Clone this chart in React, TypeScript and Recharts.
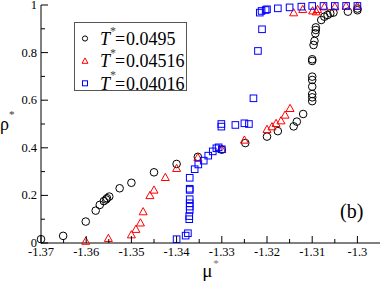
import { ScatterChart, Scatter, XAxis, YAxis, Legend } from "recharts";

const SERIF = "'Liberation Serif', 'Times New Roman', serif";
const serif = { fontFamily: SERIF };

// T* = 0.0495 (circles)
const MU_A = [
  -1.37, -1.3651, -1.3601, -1.3579, -1.357, -1.3561, -1.3556, -1.3554, -1.3549, -1.3526,
  -1.35, -1.345, -1.34, -1.3353, -1.33, -1.3248, -1.32, -1.3176, -1.3141, -1.3134,
  -1.312, -1.31, -1.31, -1.31, -1.31, -1.31, -1.31, -1.31, -1.31, -1.3097,
  -1.3095, -1.3093, -1.3092, -1.3092, -1.308, -1.3073, -1.3066, -1.306, -1.3053, -1.3021,
  -1.3, -1.3,
];
const RHO_A = [
  0.016, 0.03, 0.09, 0.136, 0.16, 0.176, 0.183, 0.188, 0.195, 0.23,
  0.253, 0.297, 0.332, 0.362, 0.392, 0.42, 0.447, 0.47, 0.49, 0.51,
  0.542, 0.596, 0.612, 0.626, 0.657, 0.685, 0.699, 0.765, 0.772, 0.832,
  0.849, 0.881, 0.895, 0.906, 0.937, 0.951, 0.958, 0.965, 0.968, 0.972,
  0.978, 0.985,
];

// T* = 0.04516 (triangles)
const MU_B = [
  -1.3601, -1.3551, -1.35, -1.349, -1.348, -1.3474, -1.3459, -1.345, -1.3425, -1.34,
  -1.3353, -1.33, -1.325, -1.32, -1.3189, -1.318, -1.3169, -1.316, -1.3149,
  -1.3141, -1.3121, -1.3099, -1.3091, -1.3088, -1.3073, -1.305, -1.3025, -1.3,
];
const RHO_B = [
  0.008, 0.02, 0.035, 0.058, 0.085, 0.132, 0.2, 0.223, 0.276, 0.314,
  0.36, 0.394, 0.433, 0.478, 0.489, 0.503, 0.514, 0.538, 0.566,
  0.968, 0.982, 0.976, 0.972, 0.982, 0.993, 0.993, 0.996, 0.996,
];

// T* = 0.04016 (squares)
const MU_C = [
  -1.34, -1.338, -1.3375, -1.3372, -1.3372, -1.3371, -1.3371, -1.3371, -1.3371, -1.3371,
  -1.3371, -1.3371, -1.336, -1.3352, -1.334, -1.333, -1.332, -1.3312, -1.3307, -1.33,
  -1.3301, -1.3301, -1.327, -1.325, -1.324, -1.323, -1.322, -1.3211, -1.3216, -1.3212,
  -1.3203, -1.32, -1.3176, -1.315, -1.3124, -1.31, -1.3075, -1.305, -1.3025, -1.3,
];
const RHO_C = [
  0.016, 0.031, 0.041, 0.1, 0.113, 0.139, 0.153, 0.167, 0.184, 0.223,
  0.228, 0.274, 0.31, 0.33, 0.346, 0.367, 0.385, 0.398, 0.402, 0.394,
  0.489, 0.5, 0.496, 0.503, 0.5, 0.608, 0.807, 0.898, 0.968, 0.975,
  0.979, 0.982, 0.986, 0.99, 0.993, 0.996, 0.996, 0.996, 0.996, 0.996,
];

const X_MAJOR = [-1.37, -1.36, -1.35, -1.34, -1.33, -1.32, -1.31, -1.3];
const X_LABELS = ["-1.37", "-1.36", "-1.35", "-1.34", "-1.33", "-1.32", "-1.31", "-1.3"];
const X_MINOR = [-1.365, -1.355, -1.345, -1.335, -1.325, -1.315, -1.305];
const Y_MAJOR = [0, 0.2, 0.4, 0.6, 0.8, 1];
const Y_LABELS = ["0", "0.2", "0.4", "0.6", "0.8", "1"];
const Y_MINOR = [0.1, 0.3, 0.5, 0.7, 0.9];
const LEGEND_VALUES = ["0.0495", "0.04516", "0.04016"];

const zip = (xs: number[], ys: number[]) => xs.map((x, i) => ({ mu: x, rho: ys[i] }));
const X_TICKS = [...X_MAJOR, ...X_MINOR].sort((a, b) => a - b);
const Y_TICKS = [...Y_MAJOR, ...Y_MINOR].sort((a, b) => a - b);

const MAJOR_LEN = 7;
const MINOR_LEN = 4;

const labelOf = (v: number, majors: number[], labels: string[]) => {
  const i = majors.findIndex((m) => Math.abs(m - v) < 1e-6);
  return i >= 0 ? labels[i] : null;
};

// ticks point inward on all four sides
const BottomTick = ({ x, y, payload }: any) => {
  const lab = labelOf(payload.value, X_MAJOR, X_LABELS);
  return (
    <g>
      <line x1={x} x2={x} y1={y} y2={y - (lab ? MAJOR_LEN : MINOR_LEN)} stroke="#000" />
      {lab && (
        <text x={x} y={y + 13} textAnchor="middle" fontSize={12.5} style={serif} fill="#000">{lab}</text>
      )}
    </g>
  );
};
const TopTick = ({ x, y, payload }: any) => {
  const len = labelOf(payload.value, X_MAJOR, X_LABELS) ? MAJOR_LEN : MINOR_LEN;
  return <line x1={x} x2={x} y1={y} y2={y + len} stroke="#000" />;
};
const LeftTick = ({ x, y, payload }: any) => {
  const lab = labelOf(payload.value, Y_MAJOR, Y_LABELS);
  return (
    <g>
      <line x1={x} x2={x + (lab ? MAJOR_LEN : MINOR_LEN)} y1={y} y2={y} stroke="#000" />
      {lab && (
        <text x={x - 4} y={y + 4} textAnchor="end" fontSize={12.5} style={serif} fill="#000">{lab}</text>
      )}
    </g>
  );
};
const RightTick = ({ x, y, payload }: any) => {
  const len = labelOf(payload.value, Y_MAJOR, Y_LABELS) ? MAJOR_LEN : MINOR_LEN;
  return <line x1={x} x2={x - len} y1={y} y2={y} stroke="#000" />;
};

const CircleMark = ({ cx, cy, r = 3.8, color = "#000" }: any) => (
  <circle cx={cx} cy={cy} r={r} fill="none" stroke={color} strokeWidth={1} />
);
const TriMark = ({ cx, cy, s = 4, color = "#ff0000" }: any) => (
  <path d={`M${cx},${cy - s} L${cx + s},${cy + s * 0.8} L${cx - s},${cy + s * 0.8} Z`} fill="none" stroke={color} strokeWidth={1} />
);
const SquareMark = ({ cx, cy, s = 3.3, color = "#0000ff" }: any) => (
  <rect x={cx - s} y={cy - s} width={2 * s} height={2 * s} fill="none" stroke={color} strokeWidth={1} />
);

const LEGEND_MARKS = [
  (cx: number, cy: number) => <CircleMark cx={cx} cy={cy} r={2.6} />,
  (cx: number, cy: number) => <TriMark cx={cx} cy={cy} s={3} />,
  (cx: number, cy: number) => <SquareMark cx={cx} cy={cy} s={2.5} />,
];

const LegendBox = () => (
  <div style={{ border: "1px solid #555", background: "#fff", width: 111, height: 67 }}>
    <svg width={111} height={67} style={{ display: "block", overflow: "visible" }}>
      {LEGEND_VALUES.map((v, i) => {
        const base = 22 + i * 22.4;
        return (
          <g key={v}>
            {LEGEND_MARKS[i](10, base - 6.5)}
            <text y={base} fontSize={18} style={serif} fill="#000">
              <tspan x={25} fontStyle="italic">T</tspan>
              <tspan x={35} y={base - 10.5} fontSize={12} fill="#444">*</tspan>
              <tspan x={40} y={base}>=</tspan>
              <tspan x={51}>{v}</tspan>
            </text>
          </g>
        );
      })}
    </svg>
  </div>
);

export default function App() {
  return (
    <div style={{ position: "absolute", left: 0, top: 0, width: 382, height: 284, background: "#fff" }}>
      <ScatterChart width={382} height={284} margin={{ top: 5, right: 2, bottom: 0, left: 0 }}>
        <XAxis
          xAxisId="b" type="number" dataKey="mu" domain={[-1.37, -1.295]} ticks={X_TICKS}
          interval={0} height={41} tickSize={0} tickMargin={0} tick={<BottomTick />}
          axisLine={{ stroke: "#000" }}
          label={{
            content: ({ viewBox }: any) => (
              <text x={viewBox.x + viewBox.width / 2} y={viewBox.y + 34} textAnchor="middle" style={serif} fontSize={19} fill="#000">
                μ<tspan dx={1} dy={-10} fontSize={11} fill="#777">*</tspan>
              </text>
            ),
          }}
        />
        <XAxis
          xAxisId="t" type="number" dataKey="mu" orientation="top" domain={[-1.37, -1.295]} ticks={X_TICKS}
          interval={0} height={0} tickSize={0} tickMargin={0} tick={<TopTick />}
          axisLine={{ stroke: "#000" }}
        />
        <YAxis
          yAxisId="l" type="number" dataKey="rho" domain={[0, 1]} ticks={Y_TICKS}
          interval={0} width={41} tickSize={0} tickMargin={0} tick={<LeftTick />}
          axisLine={{ stroke: "#000" }}
          label={{
            content: ({ viewBox }: any) => (
              <text x={viewBox.x} y={viewBox.y + viewBox.height / 2 + 6} style={serif} fontSize={18} fill="#000">
                ρ<tspan dx={0} dy={-12} fontSize={11} fill="#333">*</tspan>
              </text>
            ),
          }}
        />
        <YAxis
          yAxisId="r" type="number" dataKey="rho" orientation="right" domain={[0, 1]} ticks={Y_TICKS}
          interval={0} width={0} tickSize={0} tickMargin={0} tick={<RightTick />}
          axisLine={{ stroke: "#000" }}
        />
        <Legend
          layout="vertical" align="center" verticalAlign="middle"
          wrapperStyle={{ left: 74, top: 22, width: 113, height: 69 }}
          content={() => <LegendBox />}
        />
        <Scatter xAxisId="b" yAxisId="l" data={zip(MU_A, RHO_A)} shape={(p: any) => <CircleMark cx={p.cx} cy={p.cy} />} isAnimationActive={false} />
        <Scatter xAxisId="b" yAxisId="l" data={zip(MU_B, RHO_B)} shape={(p: any) => <TriMark cx={p.cx} cy={p.cy} />} isAnimationActive={false} />
        <Scatter xAxisId="b" yAxisId="l" data={zip(MU_C, RHO_C)} shape={(p: any) => <SquareMark cx={p.cx} cy={p.cy} />} isAnimationActive={false} />
        <text x={340} y={218} style={serif} fontSize={20} fill="#000">(b)</text>
      </ScatterChart>
    </div>
  );
}
